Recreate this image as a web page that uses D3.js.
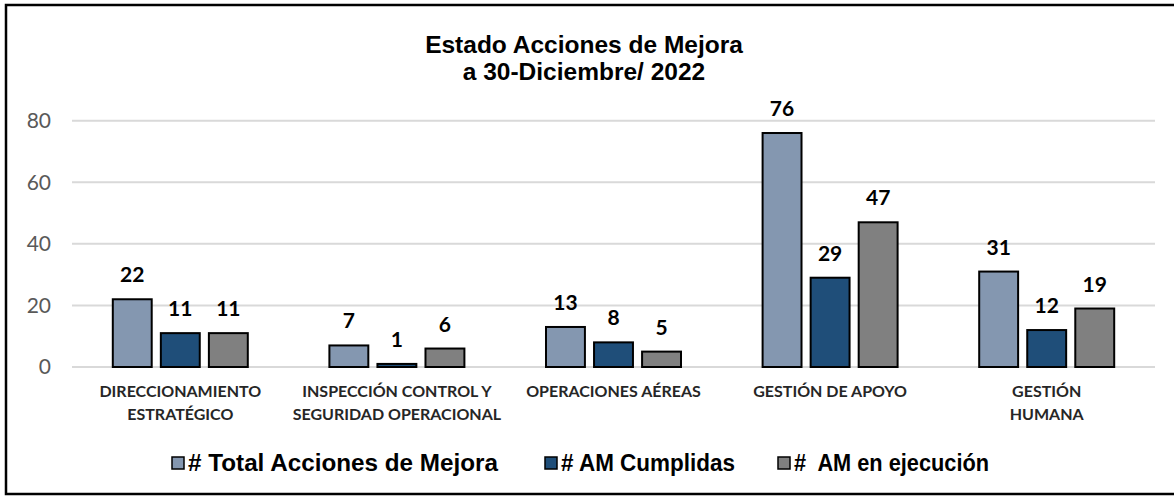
<!DOCTYPE html>
<html>
<head>
<meta charset="utf-8">
<script src="https://cdn.jsdelivr.net/npm/d3@7"></script>
<style>
  body { margin: 0; background: #fff; }
  text { white-space: pre; }
</style>
</head>
<body>
<svg id="main_svg" width="1174" height="498"></svg>
<script>
// datos
const categorias = [
    ["DIRECCIONAMIENTO", "ESTRATÉGICO"],
    ["INSPECCIÓN CONTROL Y", "SEGURIDAD OPERACIONAL"],
    ["OPERACIONES AÉREAS"],
    ["GESTIÓN DE APOYO"],
    ["GESTIÓN", "HUMANA"]
];
const series = ["# Total Acciones de Mejora", "# AM Cumplidas", "#  AM en ejecución"];
const totalAcciones = [22, 7, 13, 76, 31];
const amCumplidas = [11, 1, 8, 29, 12];
const amEjecucion = [11, 6, 5, 47, 19];
const ticks = [0, 20, 40, 60, 80];
const colores = ["#8497B0", "#1F4E79", "#808080"];

let valores = [totalAcciones, amCumplidas, amEjecucion];
let svg = d3.select("#main_svg");

// marco
svg.append("rect")
   .attr("x", 6).attr("y", 5)
   .attr("width", 1180).attr("height", 489)
   .attr("fill", "none").attr("stroke", "#000").attr("stroke-width", 2.5);

// titulo
let titulo = svg.append("text")
   .attr("text-anchor", "middle")
   .style("font-family", "'Liberation Sans', Arial, sans-serif")
   .style("font-weight", "bold")
   .style("font-size", "24.5px")
   .attr("fill", "#000");
titulo.append("tspan").attr("x", 584).attr("y", 53).text("Estado Acciones de Mejora");
titulo.append("tspan").attr("x", 584).attr("y", 80).text("a 30-Diciembre/ 2022");

let x0 = d3.scaleBand()
   .domain(d3.range(categorias.length))
   .range([72, 1155]);

let bw = x0.bandwidth();
let x1 = d3.scaleBand()
   .domain(d3.range(series.length))
   .range([(bw - 135) / 2, (bw + 135) / 2])
   .paddingInner(0.19);

let y = d3.scaleLinear().domain([0, 80]).range([367, 120.7]);

// rejilla
svg.append("g").selectAll("line")
   .data(ticks)
   .enter().append("line")
   .attr("x1", 72).attr("x2", 1155)
   .attr("y1", d => y(d)).attr("y2", d => y(d))
   .attr("stroke", "#D9D9D9").attr("stroke-width", 2);

// eje y
let ejeY = svg.append("g")
   .attr("transform", "translate(51,0)")
   .call(d3.axisLeft(y).tickValues(ticks).tickSize(0).tickPadding(0));
ejeY.select(".domain").remove();
ejeY.selectAll("text")
   .style("font-family", "Lato, sans-serif")
   .style("font-size", "21px")
   .attr("fill", "#595959");

// barras
for (let s = 0; s < series.length; s++) {
    let g = svg.append("g");
    g.selectAll("rect")
       .data(valores[s])
       .enter().append("rect")
       .attr("x", (d, i) => x0(i) + x1(s))
       .attr("y", d => y(d))
       .attr("width", x1.bandwidth())
       .attr("height", d => y(0) - y(d))
       .attr("fill", colores[s])
       .attr("stroke", "#000")
       .attr("stroke-width", 2);
    g.selectAll("text")
       .data(valores[s])
       .enter().append("text")
       .attr("x", (d, i) => x0(i) + x1(s) + x1.bandwidth() / 2)
       .attr("y", d => y(d) - 17)
       .attr("text-anchor", "middle")
       .style("font-family", "Lato, sans-serif")
       .style("font-weight", "bold")
       .style("font-size", "21px")
       .attr("fill", "#000")
       .text(d => d);
}

// etiquetas de categoria
let etiquetas = svg.append("g").selectAll("text")
   .data(categorias)
   .enter().append("text")
   .attr("text-anchor", "middle")
   .style("font-family", "Lato, sans-serif")
   .style("font-weight", "bold")
   .style("font-size", "16px")
   .attr("fill", "#262626");
etiquetas.each(function (d, i) {
    let t = d3.select(this);
    d.forEach((linea, k) => {
        t.append("tspan")
         .attr("x", x0(i) + bw / 2)
         .attr("y", 397 + k * 23)
         .text(linea);
    });
});

// leyenda
let leyX = [172, 545, 778];
let leyAncho = [310, 174, 195];
let leyenda = svg.append("g");
for (let s = 0; s < series.length; s++) {
    let it = leyenda.append("g").attr("transform", "translate(" + leyX[s] + ",0)");
    it.append("rect")
      .attr("x", 0).attr("y", 457)
      .attr("width", 12).attr("height", 12)
      .attr("fill", colores[s]).attr("stroke", "#000").attr("stroke-width", 1.5);
    it.append("text")
      .attr("x", 16).attr("y", 471)
      .attr("textLength", leyAncho[s])
      .attr("lengthAdjust", "spacingAndGlyphs")
      .style("font-family", "'Liberation Sans', Arial, sans-serif")
      .style("font-weight", "bold")
      .style("font-size", "23.5px")
      .attr("fill", "#000")
      .text(series[s]);
}
</script>
</body>
</html>
